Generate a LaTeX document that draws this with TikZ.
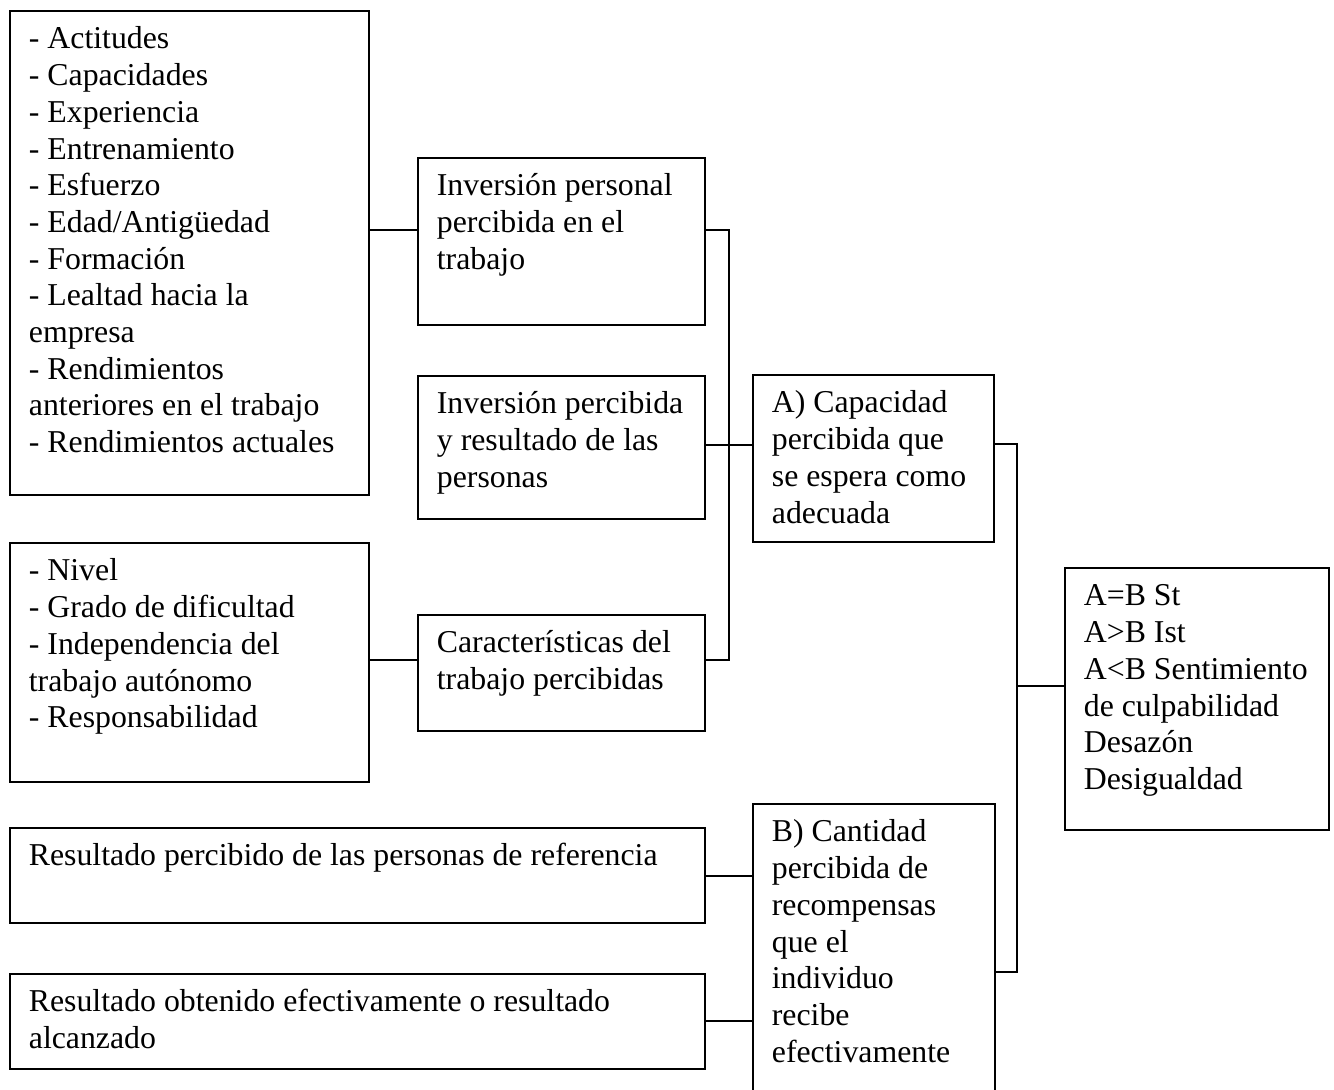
\documentclass[tikz,border=0pt]{standalone}
\usepackage{fontspec}
\setmainfont{Liberation Serif}
\usetikzlibrary{fit,calc}
\tikzset{
  box/.style={draw=black, line width=1pt, inner sep=0pt, rectangle},
  txt/.style={anchor=north west, inner sep=0pt, align=left, text=black,
    font=\fontsize{15.9pt}{18.35pt}\selectfont},
  conn/.style={draw=black, line width=0.6pt}
}
\begin{document}
\begin{tikzpicture}[x=0.5pt, y=-0.5pt]
\useasboundingbox (0,0) rectangle (1334,1089);
\clip (0,0) rectangle (1334,1089);
\fill[white] (0,0) rectangle (1334,1089);

% boxes
\node[box, fit={(10,11) (369,495)}] (b1) {};
\node[box, fit={(418,158) (705,325)}] (b2) {};
\node[box, fit={(418,376) (705,519)}] (b3) {};
\node[box, fit={(418,615) (705,731)}] (b4) {};
\node[box, fit={(10,543) (369,782)}] (b5) {};
\node[box, fit={(753,375) (994,542)}] (bA) {};
\node[box, fit={(1065,568) (1329,830)}] (bS) {};
\node[box, fit={(10,828) (705,923)}] (b8) {};
\node[box, fit={(10,974) (705,1069)}] (b9) {};
\node[box, fit={(753,804) (995,1110)}] (bB) {};

% texts
\node[txt] (t1) at ($(b1.north west)+(19.5,12.8)$) {\strut - Actitudes\\- Capacidades\\- Experiencia\\- Entrenamiento\\- Esfuerzo\\- Edad/Antigüedad\\- Formación\\- Lealtad hacia la\\empresa\\- Rendimientos\\anteriores en el trabajo\\- Rendimientos actuales};
\node[txt] (t2) at ($(b2.north west)+(19.5,12.8)$) {\strut Inversión personal\\percibida en el\\trabajo};
\node[txt] (t3) at ($(b3.north west)+(19.5,12.8)$) {\strut Inversión percibida\\y resultado de las\\personas};
\node[txt] (t4) at ($(b4.north west)+(19.5,12.8)$) {\strut Características del\\trabajo percibidas};
\node[txt] (t5) at ($(b5.north west)+(19.5,12.8)$) {\strut - Nivel\\- Grado de dificultad\\- Independencia del\\trabajo autónomo\\- Responsabilidad};
\node[txt] (tA) at ($(bA.north west)+(19.5,12.8)$) {\strut A) Capacidad\\percibida que\\se espera como\\adecuada};
\node[txt] (tS) at ($(bS.north west)+(19.5,12.8)$) {\strut A=B St\\A>B Ist\\A<B Sentimiento\\de culpabilidad\\Desazón\\Desigualdad};
\node[txt] (t8) at ($(b8.north west)+(19.5,12.8)$) {\strut Resultado percibido de las personas de referencia};
\node[txt] (t9) at ($(b9.north west)+(19.5,12.8)$) {\strut Resultado obtenido efectivamente o resultado\\alcanzado};
\node[txt] (tB) at ($(bB.north west)+(19.5,12.8)$) {\strut B) Cantidad\\percibida de\\recompensas\\que el\\individuo\\recibe\\efectivamente};

% junctions
\coordinate (j1) at (729,230);
\coordinate (j2) at (729,445);
\coordinate (j3) at (729,660);
\coordinate (k1) at (1017,444);
\coordinate (k2) at (1017,686);
\coordinate (k3) at (1017,972);
\coordinate (m1) at (729,876);
\coordinate (m2) at (729,1021);

% connectors
\draw[conn] (b1.east |- j1) -- (b2.west |- j1);
\draw[conn] (b2.east |- j1) -- (j1) -- (j3) -- (b4.east |- j3);
\draw[conn] (b3.east |- j2) -- (bA.west |- j2);
\draw[conn] (b5.east |- j3) -- (b4.west |- j3);
\draw[conn] (bA.east |- k1) -- (k1) -- (k3) -- (bB.east |- k3);
\draw[conn] (k2) -- (bS.west |- k2);
\draw[conn] (b8.east |- m1) -- (bB.west |- m1);
\draw[conn] (b9.east |- m2) -- (bB.west |- m2);
\end{tikzpicture}
\end{document}
